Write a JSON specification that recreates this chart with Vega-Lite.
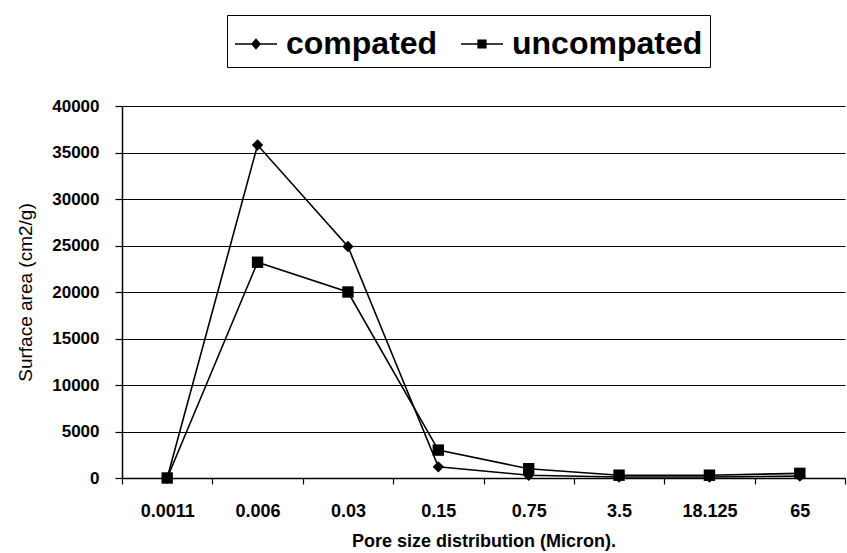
{
  "$schema": "https://vega.github.io/schema/vega-lite/v6.json",
  "width": 723,
  "height": 372,
  "autosize": {"type": "none"},
  "padding": {"left": 122, "top": 106, "right": 2, "bottom": 75},
  "background": "white",
  "config": {
    "view": {"stroke": null},
    "font": "Liberation Sans",
    "axis": {
      "domainColor": "black",
      "domainWidth": 1.5,
      "tickColor": "black",
      "tickWidth": 1.2,
      "gridColor": "black",
      "gridWidth": 1.2,
      "gridOpacity": 1,
      "labelColor": "black",
      "titleColor": "black",
      "labelFont": "Liberation Sans",
      "titleFont": "Liberation Sans"
    }
  },
  "data": {
    "values": [
      {"size": "0.0011", "series": "compated", "value": 0},
      {"size": "0.006", "series": "compated", "value": 35800},
      {"size": "0.03", "series": "compated", "value": 24900},
      {"size": "0.15", "series": "compated", "value": 1200},
      {"size": "0.75", "series": "compated", "value": 300},
      {"size": "3.5", "series": "compated", "value": 100},
      {"size": "18.125", "series": "compated", "value": 100},
      {"size": "65", "series": "compated", "value": 200},
      {"size": "0.0011", "series": "uncompated", "value": 0},
      {"size": "0.006", "series": "uncompated", "value": 23200},
      {"size": "0.03", "series": "uncompated", "value": 20000},
      {"size": "0.15", "series": "uncompated", "value": 3000},
      {"size": "0.75", "series": "uncompated", "value": 1000},
      {"size": "3.5", "series": "uncompated", "value": 300},
      {"size": "18.125", "series": "uncompated", "value": 300},
      {"size": "65", "series": "uncompated", "value": 500}
    ]
  },
  "encoding": {
    "x": {
      "field": "size",
      "type": "nominal",
      "scale": {
        "type": "band",
        "domain": ["0.0011", "0.006", "0.03", "0.15", "0.75", "3.5", "18.125", "65"],
        "paddingInner": 0,
        "paddingOuter": 0
      },
      "axis": {
        "title": "Pore size distribution (Micron).",
        "titleFontSize": 18,
        "titleFontWeight": "bold",
        "titlePadding": 12,
        "labelAngle": 0,
        "labelFontSize": 18,
        "labelFontWeight": "bold",
        "labelPadding": 18,
        "tickSize": 6,
        "tickBand": "extent",
        "grid": false
      }
    },
    "y": {
      "field": "value",
      "type": "quantitative",
      "scale": {"domain": [0, 40000], "nice": false},
      "axis": {
        "title": "Surface area (cm2/g)",
        "titleFontSize": 19,
        "titleFontWeight": "normal",
        "titlePadding": 16,
        "values": [0, 5000, 10000, 15000, 20000, 25000, 30000, 35000, 40000],
        "format": "d",
        "labelFontSize": 17,
        "labelFontWeight": "bold",
        "labelPadding": 16,
        "tickSize": 7,
        "grid": true
      }
    }
  },
  "layer": [
    {
      "mark": {"type": "line", "color": "black", "strokeWidth": 1.6},
      "encoding": {"detail": {"field": "series", "type": "nominal"}}
    },
    {
      "mark": {"type": "point", "filled": true, "color": "black", "opacity": 1},
      "encoding": {
        "shape": {
          "field": "series",
          "type": "nominal",
          "scale": {"domain": ["compated", "uncompated"], "range": ["diamond", "square"]},
          "legend": null
        },
        "size": {"value": 130}
      }
    },
    {
      "transform": [{"filter": "false"}],
      "mark": {"type": "point", "filled": true, "color": "black"},
      "encoding": {
        "shape": {
          "field": "series",
          "type": "nominal",
          "scale": {
            "domain": ["compated", "uncompated"],
            "range": [
              "M-1,-0.04L1,-0.04L1,0.04L-1,0.04ZM0,-0.27L0.24,0L0,0.27L-0.24,0Z",
              "M-1,-0.04L1,-0.04L1,0.04L-1,0.04ZM-0.22,-0.22L0.22,-0.22L0.22,0.22L-0.22,0.22Z"
            ]
          },
          "legend": {
            "title": null,
            "orient": "none",
            "legendX": 105,
            "legendY": -91,
            "direction": "horizontal",
            "columns": 2,
            "padding": 7,
            "strokeColor": "black",
            "labelFontSize": 32,
            "labelFontWeight": "bold",
            "labelFont": "Liberation Sans",
            "labelColor": "black",
            "labelLimit": 400,
            "labelOffset": 8,
            "columnPadding": 20,
            "symbolSize": 1764,
            "symbolFillColor": "black",
            "symbolOpacity": 1,
            "encode": {
              "legend": {"update": {"strokeWidth": {"value": 1.5}}}
            }
          }
        }
      }
    }
  ],
  "resolve": {"scale": {"shape": "independent"}, "legend": {"shape": "independent"}}
}
